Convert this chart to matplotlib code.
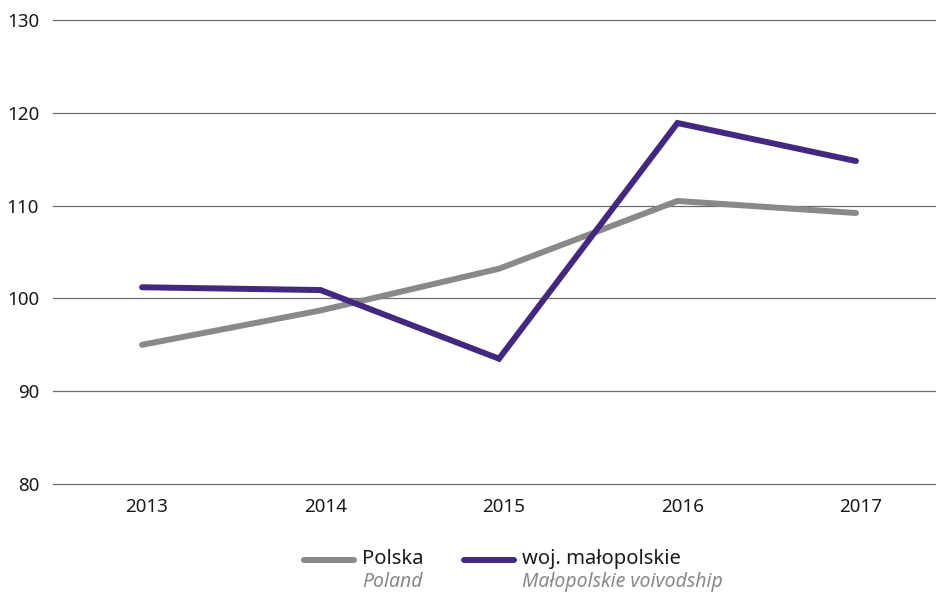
import matplotlib
matplotlib.use("Agg")
import matplotlib.pyplot as plt
from matplotlib.lines import Line2D
from matplotlib.transforms import ScaledTranslation

years = [2013, 2014, 2015, 2016, 2017]
polska = [95.0, 98.7, 103.2, 110.5, 109.2]
malopolskie = [101.2, 100.9, 93.5, 118.9, 114.8]
yticks = [80, 90, 100, 110, 120, 130]

GRAY = "#898989"
PURPLE = "#43287f"
plt.rcParams['font.family'] = ['Noto Sans', 'DejaVu Sans']

fig = plt.figure(figsize=(9.37, 5.93), dpi=100)
ax = fig.add_axes([53/937, 1-484/593, 1-53/937, (484-20)/593])
ax.plot(years, polska, color=GRAY, lw=4.3, solid_capstyle='round', solid_joinstyle='miter', zorder=3)
ax.plot(years, malopolskie, color=PURPLE, lw=4.3, solid_capstyle='round', solid_joinstyle='miter', zorder=3)
ax.set_xlim(2012.501, 2017.454)
ax.set_ylim(80, 130)
ax.set_yticks(yticks)
ax.set_xticks(years)
ax.set_xticklabels([str(y) for y in years])
ax.grid(axis='y', color='#6d6d6d', lw=0.9)
for gl in ax.get_ygridlines():
    gl.set_clip_on(False)
ax.set_axisbelow(True)
for s in ax.spines.values():
    s.set_visible(False)
ax.tick_params(axis='both', length=0, labelsize=13.5, colors='#1a1a1a')
ax.tick_params(axis='y', pad=10)
ax.tick_params(axis='x', pad=10)
off = ScaledTranslation(5/100, 0, fig.dpi_scale_trans)
for lab in ax.get_xticklabels():
    lab.set_transform(lab.get_transform() + off)

# legend
def fx(px):
    return px / 937
def fy(py):
    return 1 - py / 593
fig.add_artist(Line2D([fx(304), fx(354)], [fy(560), fy(560)], color=GRAY, lw=4.3, solid_capstyle='round'))
fig.text(fx(362), fy(559), "Polska", fontsize=14.5, va='center', ha='left', color='#1a1a1a')
fig.text(fx(362), fy(582), "Poland", fontsize=14, va='center', ha='left', color=GRAY, style='italic')
fig.add_artist(Line2D([fx(464), fx(514)], [fy(560), fy(560)], color=PURPLE, lw=4.3, solid_capstyle='round'))
fig.text(fx(522), fy(559), "woj. małopolskie", fontsize=14.5, va='center', ha='left', color='#1a1a1a')
fig.text(fx(522), fy(582), "Małopolskie voivodship", fontsize=14, va='center', ha='left', color=GRAY, style='italic')

fig.savefig("out.png", dpi=100)
